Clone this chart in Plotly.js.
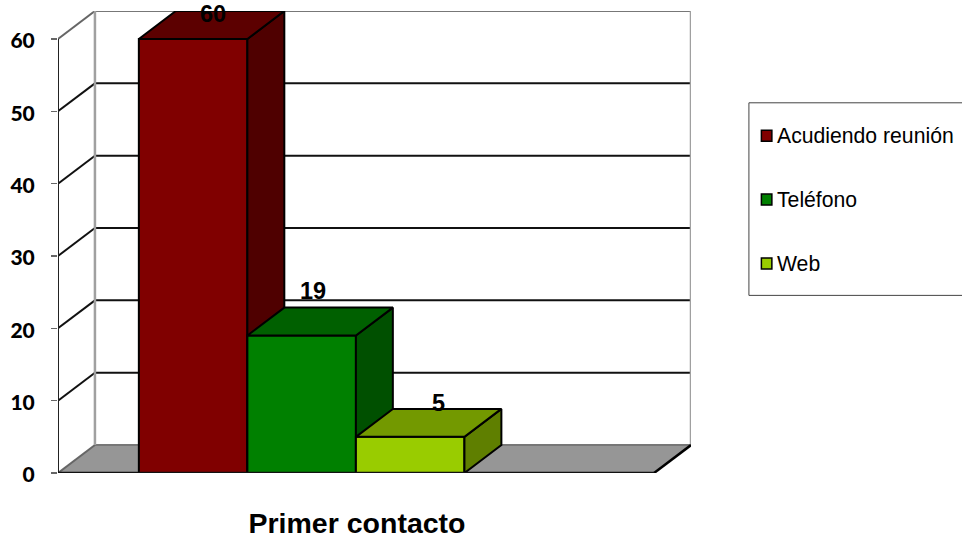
<!DOCTYPE html>
<html>
<head>
<meta charset="utf-8">
<script src="https://cdn.plot.ly/plotly-3.0.1.min.js"></script>
<style>html,body{margin:0;padding:0;background:#fff}#chart{width:962px;height:540px}</style>
</head>
<body>
<div id="chart"></div>
<script>
// ---- data ----
const chartTitle = "Primer contacto";
const seriesNames = ["Acudiendo reunión", "Teléfono", "Web"];
const seriesValues = [60, 19, 5];
const yTicks = [0, 10, 20, 30, 40, 50, 60];

// ---- styles ----
const frontColors = ["#800000", "#008000", "#99cc00"];
const sideColors  = ["#4f0000", "#005000", "#5f7f00"];
const topColors   = ["#5c0000", "#006000", "#739900"];
const labelShiftX = [19.5, 11.5, 28];
const labelShiftY = [24.5, 45, 34];

// ---- geometry of the pseudo 3D box, in axis units ----
const pxL = 57.5, pxR = 691.5, pxT = 10.5, pxB = 473.5;
const W = 962, H = 540;
const xUnit = 108.7, yUnit = 7.25;             // px per axis unit
const depthX = 37 / xUnit, depthY = 28 / yUnit;
const xMax = (pxR - pxL) / xUnit, yMax = (pxB - pxT) / yUnit;
const floorRight = xMax - depthX;
const barStart = 0.745, barWidth = 1;
const px = v => (v - pxL) / (pxR - pxL);
const py = v => (pxB - v) / (pxB - pxT);

const traces = [];
seriesValues.forEach((v, i) => {
  const n = i === 0 ? "" : String(i + 1);
  const xa = "x" + n, ya = "y" + n;
  const l = barStart + i * barWidth, r = l + barWidth;
  traces.push({
    type: "bar", name: seriesNames[i], x: [l + barWidth / 2], y: [v], width: [barWidth],
    xaxis: xa, yaxis: ya, cliponaxis: false, showlegend: false, hoverinfo: "name+y",
    marker: {color: frontColors[i], line: {color: "#000", width: 2}}
  });
  traces.push({
    type: "scatter", mode: "lines", fill: "toself", fillcolor: sideColors[i],
    x: [r, r + depthX, r + depthX, r, r], y: [0, depthY, v + depthY, v, 0],
    xaxis: xa, yaxis: ya, cliponaxis: false, showlegend: false, hoverinfo: "skip",
    line: {color: "#000", width: 2}
  });
  traces.push({
    type: "scatter", mode: "lines", fill: "toself", fillcolor: topColors[i],
    x: [l, l + depthX, r + depthX, r, l], y: [v, v + depthY, v + depthY, v, v],
    xaxis: xa, yaxis: ya, cliponaxis: false, showlegend: false, hoverinfo: "skip",
    line: {color: "#000", width: 2}
  });
});

const dataLine = (x0, y0, x1, y1, color, width, layer) => ({
  type: "line", xref: "x", yref: "y", x0, y0, x1, y1, layer: layer || "below",
  line: {color, width}
});

const shapes = [
  {type: "path", xref: "x", yref: "y", layer: "below", fillcolor: "#969696", line: {width: 0},
   path: `M0,0 L${floorRight},0 L${xMax},${depthY} L${depthX},${depthY} Z`}
];
yTicks.forEach(t => {
  const edge = t === 0 || t === 60;
  shapes.push(dataLine(depthX, t + depthY, xMax, t + depthY, edge ? "#777" : "#111", 2));
  shapes.push(dataLine(0, t, depthX, t + depthY, edge ? "#666" : "#111", 2));
});
shapes.push(dataLine(depthX, depthY, depthX, yMax, "#a0a0a0", 2.5));
shapes.push(dataLine(xMax, depthY, xMax, yMax, "#a0a0a0", 2.5));
shapes.push(dataLine(0, 0, 0, 60, "#222", 2));
shapes.push(dataLine(floorRight, 0, xMax, depthY, "#000", 2.5));
shapes.push(dataLine(0, 0, floorRight, 0, "#111", 2.5, "above"));

// legend
shapes.push({type: "rect", xref: "paper", yref: "paper", x0: px(749.5), x1: px(975),
  y0: py(295.5), y1: py(102.5), line: {color: "#444", width: 1}, fillcolor: "#fff", layer: "below"});
const legendRows = [135.5, 199.5, 263.5];
const annotations = [];
seriesNames.forEach((name, i) => {
  shapes.push({type: "rect", xref: "paper", yref: "paper",
    x0: px(762), x1: px(772.5), y0: py(legendRows[i] + 5.5), y1: py(legendRows[i] - 5.5),
    fillcolor: frontColors[i], line: {color: "#000", width: 1.5}, layer: "above"});
  annotations.push({xref: "paper", yref: "paper", x: px(776), y: py(legendRows[i]),
    xanchor: "left", yanchor: "middle", text: name, showarrow: false,
    font: {family: "Liberation Sans", size: 21.2, color: "#000"}});
});
seriesValues.forEach((v, i) => {
  annotations.push({xref: "x", yref: "y", x: barStart + i * barWidth + barWidth / 2, y: v,
    xshift: labelShiftX[i], yshift: labelShiftY[i], xanchor: "center", yanchor: "middle",
    text: "<b>" + v + "</b>", showarrow: false,
    font: {family: "Liberation Sans", size: 23.5, color: "#000"}});
});

const hiddenX = {range: [0, xMax], visible: false, overlaying: "x", fixedrange: true};
const hiddenY = {range: [0, yMax], visible: false, overlaying: "y", fixedrange: true};

const layout = {
  width: W, height: H,
  margin: {l: pxL, r: W - pxR, t: pxT, b: H - pxB, pad: 0, autoexpand: false},
  paper_bgcolor: "#fff", plot_bgcolor: "rgba(0,0,0,0)", showlegend: false,
  barmode: "overlay",
  title: {text: "<b>" + chartTitle + "</b>", x: 357 / W, xanchor: "center", xref: "container",
    y: 1 - 523.5 / H, yanchor: "middle", yref: "container",
    font: {family: "Liberation Sans", size: 28.5, color: "#000"}},
  xaxis: {range: [0, xMax], showgrid: false, zeroline: false, showline: false, showticklabels: false, ticks: "", fixedrange: true},
  yaxis: {range: [0, yMax], tickmode: "array", tickvals: yTicks, ticktext: yTicks.map(String),
    showgrid: false, zeroline: false, showline: false, ticks: "outside", ticklen: 6, tickwidth: 1.5, tickcolor: "#666",
    ticklabelstandoff: 12, ticklabelshift: 2, fixedrange: true,
    tickfont: {family: "Lato", size: 21, weight: 900, color: "#000"}},
  xaxis2: hiddenX, yaxis2: hiddenY, xaxis3: hiddenX, yaxis3: hiddenY,
  shapes, annotations
};
Plotly.newPlot("chart", traces, layout, {displayModeBar: false, staticPlot: true});
</script>
</body>
</html>
